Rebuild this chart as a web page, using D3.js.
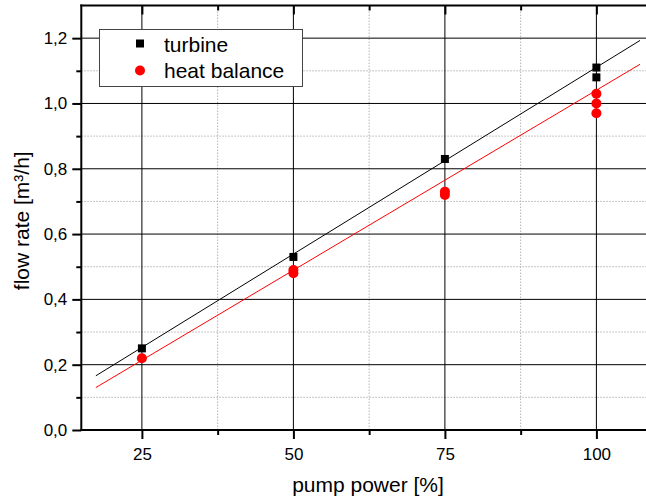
<!DOCTYPE html>
<html><head><meta charset="utf-8">
<script src="https://cdn.jsdelivr.net/npm/d3@7"></script>
<style>html,body{margin:0;padding:0;background:#fff;overflow:hidden}svg{display:block}</style>
</head><body>
<svg id="chart" width="646" height="500"></svg>
<script>
// ---- data ----
const turbineX = [25, 50, 75, 100, 100];
const turbineY = [0.25, 0.53, 0.83, 1.11, 1.08];
const heatX = [25, 50, 50, 75, 75, 100, 100, 100];
const heatY = [0.22, 0.49, 0.48, 0.73, 0.72, 1.03, 1.00, 0.97];
const fitX = [17.4, 107.2];
const turbineFitY = [0.166, 1.193];
const heatFitY = [0.130, 1.120];
const xMajorTicks = [25, 50, 75, 100];
const xMinorTicks = [37.5, 62.5, 87.5];
const yMajorTicks = [0, 0.2, 0.4, 0.6, 0.8, 1.0, 1.2];
const yMinorTicks = [0.1, 0.3, 0.5, 0.7, 0.9, 1.1];
const seriesNames = ["turbine", "heat balance"];

const svg = d3.select("#chart");
const x = d3.scaleLinear().domain([15, 110]).range([81.3, 657]);
const y = d3.scaleLinear().domain([0, 1.3]).range([430, 5.5]);
const fmt = v => d3.format(".1f")(v).replace(".", ",");
const font = "'Liberation Sans', Arial, sans-serif";
const L = x.range()[0], R = x.range()[1], B = y.range()[0], T = y.range()[1];

// minor grid (dotted)
const g = svg.append("g");
g.selectAll(".vmin").data(xMinorTicks).enter().append("line")
  .attr("x1", d => x(d)).attr("x2", d => x(d)).attr("y1", T).attr("y2", B)
  .attr("stroke", "#b4b4b4").attr("stroke-width", 1).attr("stroke-dasharray", "1.5,1.5");
g.selectAll(".hmin").data(yMinorTicks).enter().append("line")
  .attr("x1", L).attr("x2", R).attr("y1", d => y(d)).attr("y2", d => y(d))
  .attr("stroke", "#b4b4b4").attr("stroke-width", 1).attr("stroke-dasharray", "1.5,1.5");
// major grid
g.selectAll(".vmaj").data(xMajorTicks).enter().append("line")
  .attr("x1", d => x(d)).attr("x2", d => x(d)).attr("y1", T).attr("y2", B)
  .attr("stroke", "#000").attr("stroke-width", 1);
g.selectAll(".hmaj").data(yMajorTicks.filter(d => d > 0)).enter().append("line")
  .attr("x1", L).attr("x2", R).attr("y1", d => y(d)).attr("y2", d => y(d))
  .attr("stroke", "#000").attr("stroke-width", 1);

// fit lines
const line = d3.line().x(d => x(d[0])).y(d => y(d[1]));
svg.append("path").datum(d3.zip(fitX, turbineFitY)).attr("d", line)
  .attr("fill", "none").attr("stroke", "#000").attr("stroke-width", 1);
svg.append("path").datum(d3.zip(fitX, heatFitY)).attr("d", line)
  .attr("fill", "none").attr("stroke", "#ff0000").attr("stroke-width", 1);

// axes
const axL = d3.axisLeft(y).tickValues(yMajorTicks).tickSize(9).tickPadding(5).tickFormat(fmt);
svg.append("g").attr("transform", `translate(${L},0)`).call(axL);
const axLm = d3.axisLeft(y).tickValues(yMinorTicks).tickSize(5).tickFormat("");
svg.append("g").attr("transform", `translate(${L},0)`).call(axLm);
const axB = d3.axisBottom(x).tickValues(xMajorTicks).tickSize(9).tickPadding(9).tickFormat(d3.format("d"));
svg.append("g").attr("transform", `translate(0,${B})`).call(axB);
const axBm = d3.axisBottom(x).tickValues(xMinorTicks).tickSize(5).tickFormat("");
svg.append("g").attr("transform", `translate(0,${B})`).call(axBm);
const axT = d3.axisBottom(x).tickValues(xMajorTicks).tickSize(9).tickFormat("");
svg.append("g").attr("transform", `translate(0,${T})`).call(axT);
const axTm = d3.axisBottom(x).tickValues(xMinorTicks).tickSize(5).tickFormat("");
svg.append("g").attr("transform", `translate(0,${T})`).call(axTm);
svg.selectAll(".domain").remove();
svg.selectAll(".tick line").attr("stroke", "#000").attr("stroke-width", 2);
svg.selectAll(".tick text").attr("font-family", font).attr("font-size", 17).attr("fill", "#000");
// frame lines
svg.append("line").attr("x1", L).attr("x2", L).attr("y1", T - 1).attr("y2", B + 1).attr("stroke", "#000").attr("stroke-width", 2);
svg.append("line").attr("x1", L - 1).attr("x2", R).attr("y1", B).attr("y2", B).attr("stroke", "#000").attr("stroke-width", 2);
svg.append("line").attr("x1", L - 1).attr("x2", R).attr("y1", T).attr("y2", T).attr("stroke", "#000").attr("stroke-width", 2);

// points
const sq = 8;
svg.append("g").selectAll("rect").data(d3.zip(turbineX, turbineY)).enter().append("rect")
  .attr("x", d => x(d[0]) - sq / 2).attr("y", d => y(d[1]) - sq / 2)
  .attr("width", sq).attr("height", sq).attr("fill", "#000");
svg.append("g").selectAll("circle").data(d3.zip(heatX, heatY)).enter().append("circle")
  .attr("cx", d => x(d[0])).attr("cy", d => y(d[1])).attr("r", 5).attr("fill", "#ff0000");

// legend
const lg = svg.append("g");
lg.append("rect").attr("x", 99.5).attr("y", 29.5).attr("width", 203).attr("height", 57)
  .attr("fill", "#fff").attr("stroke", "#444").attr("stroke-width", 1);
lg.append("rect").attr("x", 140 - sq / 2).attr("y", 43.5 - sq / 2).attr("width", sq).attr("height", sq).attr("fill", "#000");
lg.append("circle").attr("cx", 140).attr("cy", 70.5).attr("r", 5).attr("fill", "#ff0000");
lg.append("text").attr("x", 164).attr("y", 51.5).text(seriesNames[0])
  .attr("font-family", font).attr("font-size", 21).attr("fill", "#000");
lg.append("text").attr("x", 164).attr("y", 77.5).text(seriesNames[1])
  .attr("font-family", font).attr("font-size", 21).attr("fill", "#000");

// axis titles
svg.append("text").attr("x", 368).attr("y", 492).attr("text-anchor", "middle")
  .attr("font-family", font).attr("font-size", 21).attr("fill", "#000").text("pump power [%]");
svg.append("text").attr("transform", `translate(29,${(T + B) / 2 + 3}) rotate(-90)`).attr("text-anchor", "middle")
  .attr("font-family", font).attr("font-size", 21).attr("fill", "#000").text("flow rate [m³/h]");
</script>
</body></html>
